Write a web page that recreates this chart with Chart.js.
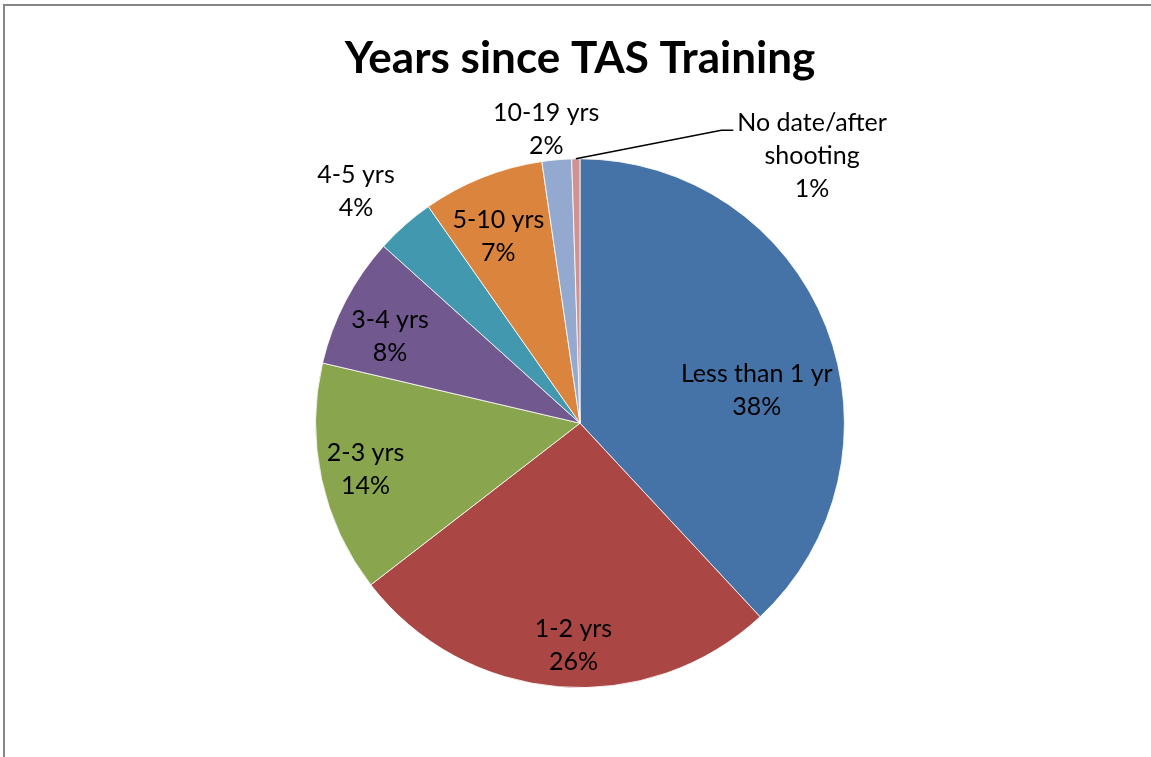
<!DOCTYPE html>
<html lang="en">
<head>
    <meta charset="UTF-8">
    <title>Years since TAS Training</title>
    <script src="https://cdn.jsdelivr.net/npm/chart.js@4.4.1/dist/chart.umd.min.js"></script>
    <style>
        html, body { margin: 0; padding: 0; background: #fff; }
        #wrap { width: 1151px; height: 757px; }
    </style>
</head>
<body>
<div id="wrap"><canvas id="chart" width="1151" height="757"></canvas></div>

<script>
    const categories = ['Less than 1 yr', '1-2 yrs', '2-3 yrs', '3-4 yrs', '4-5 yrs', '5-10 yrs', '10-19 yrs', 'No date/after shooting'];
    const shares = [38.0, 26.4, 14.1, 8.0, 3.6, 7.4, 1.8, 0.5];
    const percentLabels = ['38%', '26%', '14%', '8%', '4%', '7%', '2%', '1%'];
    const labelLines = [['Less than 1 yr'], ['1-2 yrs'], ['2-3 yrs'], ['3-4 yrs'], ['4-5 yrs'], ['5-10 yrs'], ['10-19 yrs'], ['No date/after', 'shooting']];
    const colors = ['#4572A7', '#AA4643', '#89A54E', '#71588F', '#4198AF', '#DB843D', '#93A9CF', '#D19392'];

    // where each label sits: radius factor, angle nudge (deg), leader line
    const placement = [
        { r: 0.68, da: 11 },
        { r: 0.84, da: -3 },
        { r: 0.83, da: 0 },
        { r: 0.79, da: -3 },
        { r: 1.22, da: -2.5 },
        { r: 0.77, da: -2 },
        { r: 1.12, da: -1.5 },
        { r: 1.338, da: 41.9, leader: true }
    ];

    const FONT = 'Lato, "Liberation Sans", sans-serif';

    const frame = {
        id: 'frame',
        beforeDraw(chart) {
            const c = chart.ctx;
            c.save();
            c.strokeStyle = '#868686';
            c.lineWidth = 2;
            c.beginPath();
            c.moveTo(4, chart.height);
            c.lineTo(4, 5);
            c.lineTo(chart.width, 5);
            c.stroke();
            c.restore();
        }
    };

    const sliceLabels = {
        id: 'sliceLabels',
        afterDatasetsDraw(chart) {
            const c = chart.ctx;
            const meta = chart.getDatasetMeta(0);
            c.save();
            c.font = '25px ' + FONT;
            c.fillStyle = '#000';
            c.textAlign = 'center';
            c.textBaseline = 'middle';
            meta.data.forEach((arc, i) => {
                const p = placement[i];
                const mid = (arc.startAngle + arc.endAngle) / 2;
                const ang = mid + p.da * Math.PI / 180;
                const rr = arc.outerRadius * p.r;
                const x = arc.x + Math.cos(ang) * rr;
                const lines = labelLines[i].concat([percentLabels[i]]);
                const lh = 33;
                const y0 = arc.y + Math.sin(ang) * rr - (lines.length - 1) * lh / 2;
                if (p.leader) {
                    const ex = arc.x + Math.cos(mid) * arc.outerRadius;
                    const ey = arc.y + Math.sin(mid) * arc.outerRadius;
                    const tw = c.measureText(lines[0]).width;
                    const lx = x - tw / 2 - 4;
                    c.save();
                    c.strokeStyle = '#000';
                    c.lineWidth = 1.5;
                    c.beginPath();
                    c.moveTo(ex, ey);
                    c.lineTo(lx - 12, y0 + 7);
                    c.lineTo(lx, y0 + 7);
                    c.stroke();
                    c.restore();
                }
                lines.forEach((t, k) => c.fillText(t, x, y0 + k * lh));
            });
            c.restore();
        }
    };

    const ctx = document.getElementById('chart').getContext('2d');
    const chart = new Chart(ctx, {
        type: 'pie',
        data: {
            labels: categories,
            datasets: [{
                data: shares,
                backgroundColor: colors,
                borderColor: '#ffffff',
                borderWidth: 0.8
            }]
        },
        options: {
            responsive: false,
            animation: false,
            layout: { padding: { top: 0, bottom: 69, left: 9, right: 0 } },
            plugins: {
                legend: { display: false },
                tooltip: { enabled: false },
                title: {
                    display: true,
                    text: 'Years since TAS Training',
                    color: '#000',
                    font: { family: FONT, size: 44, weight: 'bold', lineHeight: 1.2 },
                    padding: { top: 32, bottom: 73.6 }
                }
            }
        },
        plugins: [frame, sliceLabels]
    });
</script>
</body>
</html>
